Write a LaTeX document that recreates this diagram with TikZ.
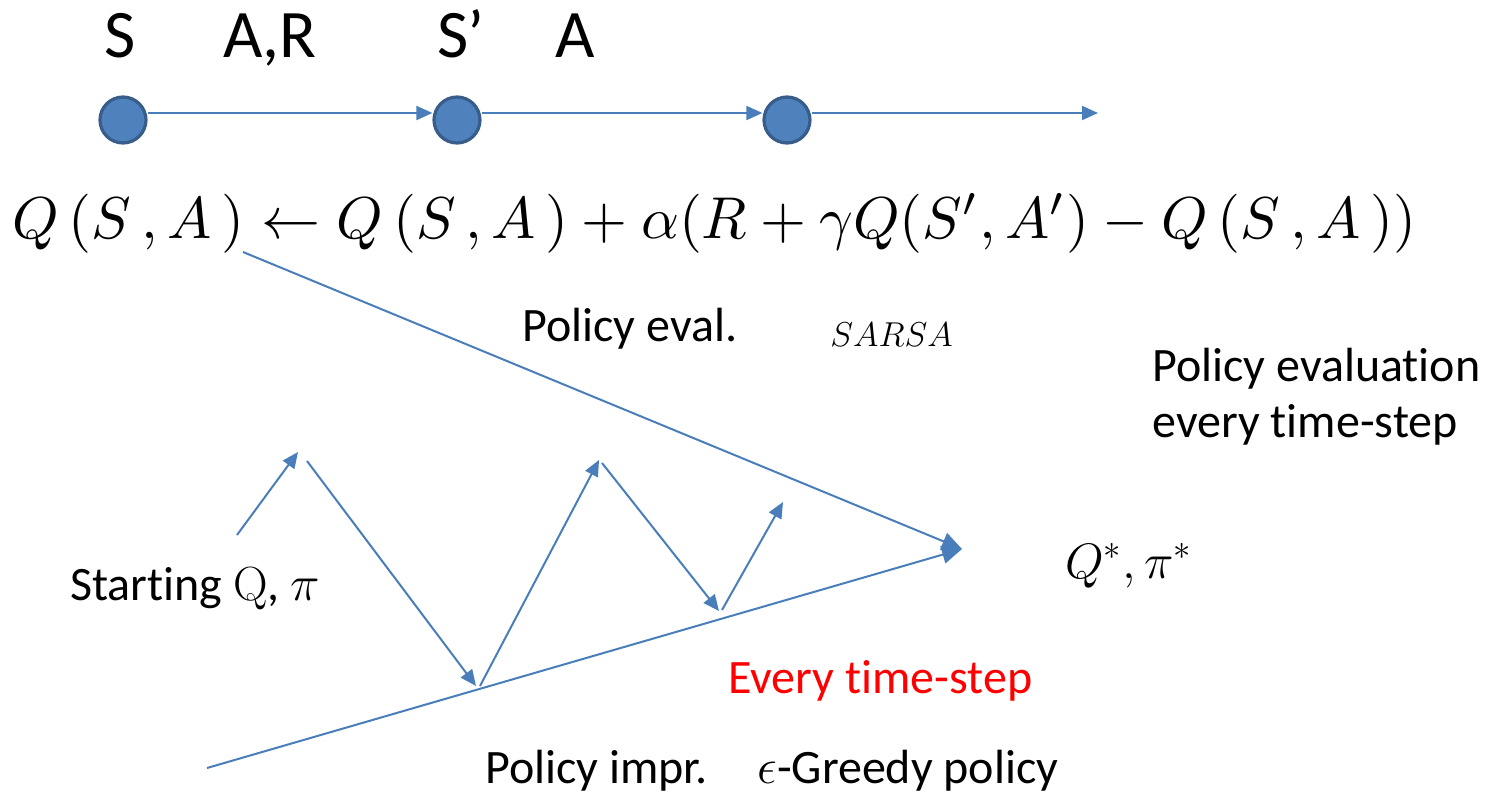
\documentclass[tikz,border=0pt]{standalone}
\usepackage{fontspec}
\usepackage{graphicx}
\setmainfont{Carlito}[Ligatures=NoCommon]
\usetikzlibrary{arrows.meta}
\definecolor{lineblue}{RGB}{74,126,187}
\definecolor{circfill}{RGB}{79,129,189}
\definecolor{circdraw}{RGB}{56,93,138}
\definecolor{myred}{RGB}{255,0,0}
\tikzset{
  state/.style={circle, fill=circfill, draw=circdraw, line width=1.6pt, minimum width=23pt, inner sep=0pt},
  conn/.style={draw=lineblue, line width=1pt, -{Triangle[length=8pt,width=7pt]}},
  bigarrow/.style={draw=lineblue, line width=1pt, -{Triangle[length=10pt,width=9pt]}},
  big/.style={font=\fontsize{34}{40}\selectfont, inner sep=0pt, anchor=base},
  lbl/.style={font=\fontsize{24}{28}\selectfont, inner sep=0pt, anchor=base west},
}
\begin{document}
\begin{tikzpicture}[x=0.5pt,y=-0.5pt]
\useasboundingbox (0,0) rectangle (1485,793);
% top labels
\node[big] (tS) at (120,57) {S};
\node[big] (tAR) at (270,57) {A,R};
\node[big] (tSp) at (461,57) {S’};
\node[big] (tA) at (575,57) {A};
% states
\node[state] (s1) at (123,120) {};
\node[state] (s2) at (457,120) {};
\node[state] (s3) at (787,120) {};
\coordinate (end) at (1098,113);
\draw[conn] (s1.east |- 0,113) -- (s2.west |- 0,113);
\draw[conn] (s2.east |- 0,113) -- (s3.west |- 0,113);
\draw[conn] (s3.east |- 0,113) -- (end);
% equation
\node[inner sep=0pt, anchor=base west] (eq) at (12,238) {\resizebox{702pt}{!}{$Q\,(S\,,A\,)\leftarrow Q\,(S\,,A\,)+\alpha(R+\gamma Q(S',A')-Q\,(S\,,A\,))$}};
% converging lines
\coordinate (u0) at (243,252);
\coordinate (goal) at (962,549);
\coordinate (l0) at (207,768);
\draw[bigarrow] (u0) -- (goal);
\draw[bigarrow] (l0) -- (goal);
% zigzag
\coordinate (z0) at (237,535);
\coordinate (z1) at (298,452);
\coordinate (z2s) at (307,461);
\coordinate (z2) at (476,686);
\coordinate (z3s) at (480,686);
\coordinate (z3) at (599,460);
\coordinate (z4s) at (602,463);
\coordinate (z4) at (719,611);
\coordinate (z5s) at (722,610);
\coordinate (z5) at (783,502);
\draw[conn] (z0) -- (z1);
\draw[conn] (z2s) -- (z2);
\draw[conn] (z3s) -- (z3);
\draw[conn] (z4s) -- (z4);
\draw[conn] (z5s) -- (z5);
% labels
\node[lbl] (peval) at (522,341) {Policy eval.};
\node[lbl, font=\fontsize{18}{22}\selectfont] (sarsa) at (830,346) {$SARSA$};
\node[lbl, align=left, anchor=north west] (pevery) at (1152,348) {Policy evaluation\\every time-step};
\node[lbl] (start) at (70,600) {Starting {\fontspec{Latin Modern Roman}Q}, $\pi$};
\node[lbl] (qstar) at (1065,578) {$Q^*,\pi^*$};
\node[lbl, text=myred] (every) at (728,693) {Every time-step};
\node[lbl] (pimpr) at (485,783) {Policy impr.};
\node[lbl] (greedy) at (757,783) {$\epsilon$-Greedy policy};
\end{tikzpicture}
\end{document}
